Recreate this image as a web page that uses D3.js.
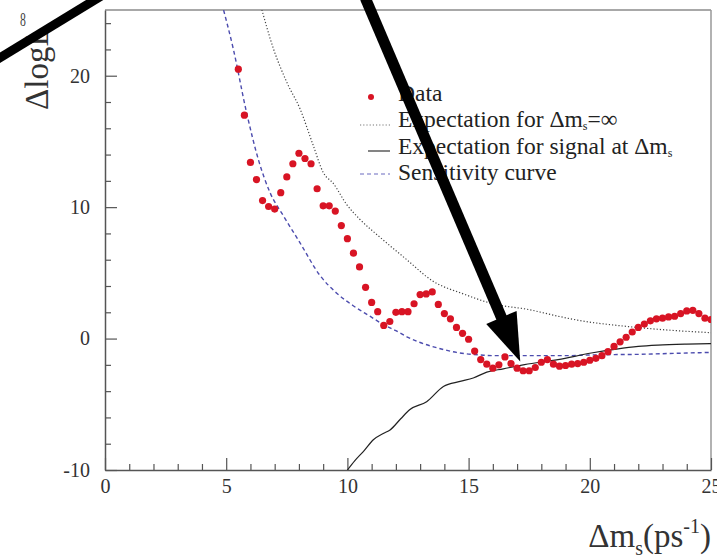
<!DOCTYPE html>
<html>
<head>
<meta charset="utf-8">
<script src="https://cdn.jsdelivr.net/npm/d3@7"></script>
<style>
  html, body { margin: 0; padding: 0; background: #fff; overflow: hidden; }
  svg { display: block; font-family: "Liberation Serif", "DejaVu Serif", serif; }
</style>
</head>
<body>
<svg id="chart" width="717" height="560"></svg>
<script>
// Amplitude scan: Δlog L versus Δm_s

// measured points (Δm_s in ps^-1, Δlog L)
const dataX = [5.5, 5.75, 6, 6.25, 6.5, 6.75, 7, 7.25, 7.5, 7.75, 8, 8.25, 8.5, 8.75, 9, 9.25,
  9.5, 9.75, 10, 10.25, 10.5, 10.75, 11, 11.25, 11.5, 11.75, 12, 12.25, 12.5, 12.75, 13, 13.25,
  13.5, 13.75, 14, 14.25, 14.5, 14.75, 15, 15.25, 15.5, 15.75, 16, 16.25, 16.5, 16.75, 17, 17.25,
  17.5, 17.75, 18, 18.25, 18.5, 18.75, 19, 19.25, 19.5, 19.75, 20, 20.25, 20.5, 20.75, 21, 21.25,
  21.5, 21.75, 22, 22.25, 22.5, 22.75, 23, 23.25, 23.5, 23.75, 24, 24.25, 24.5, 24.75, 25];
const dataY = [20.5, 17.0, 13.4, 12.1, 10.5, 10.05, 9.85, 11.1, 12.3, 13.3, 14.1, 13.7, 13.3, 11.4, 10.1, 10.1,
  9.7, 8.6, 7.6, 6.5, 5.45, 3.9, 2.75, 2.05, 1.0, 1.3, 2.0, 2.05, 2.05, 2.65, 3.35, 3.4,
  3.55, 2.6, 1.9, 1.5, 0.85, 0.4, -0.05, -0.95, -1.6, -1.95, -2.25, -2.0, -1.4, -1.9, -2.25, -2.45,
  -2.45, -2.2, -1.8, -1.6, -1.95, -2.1, -2.05, -1.95, -1.9, -1.8, -1.65, -1.5, -1.3, -1.0, -0.6, -0.25,
  0.1, 0.5, 0.85, 1.1, 1.35, 1.5, 1.55, 1.65, 1.7, 1.9, 2.1, 2.15, 1.9, 1.55, 1.45];

// expectation for Δm_s = ∞ (dotted)
const infX = [6.4, 6.94, 7.5, 8.04, 8.59, 9.0, 9.42, 9.97, 10.5, 11.35, 12.45, 13.5, 14.78, 16.0, 17.5, 18.69, 19.5, 21.44, 23.2, 25];
const infY = [25.5, 22.1, 19.5, 17.5, 14.7, 12.65, 11.8, 10.2, 9.1, 7.7, 6.0, 4.4, 3.4, 2.65, 2.2, 1.7, 1.4, 0.94, 0.65, 0.45];

// expectation for a signal at Δm_s (solid)
const sigX = [10.0, 10.3, 10.7, 11.07, 11.5, 11.76, 12.2, 12.58, 13.27, 13.96, 14.65, 15.19, 15.75, 16.43, 17.31, 18.69, 20.06, 21.1, 22.0, 22.81, 24, 25];
const sigY = [-10.0, -9.3, -8.5, -7.7, -7.2, -6.95, -6.1, -5.4, -4.8, -3.64, -3.26, -3.0, -2.55, -2.3, -1.98, -1.6, -1.1, -0.8, -0.6, -0.5, -0.42, -0.38];

// sensitivity curve (dashed)
const sensX = [4.82, 5.29, 5.84, 6.33, 6.81, 7.36, 8.04, 8.87, 9.56, 10.24, 10.93, 11.5, 12.0, 12.5, 13.0, 13.5, 14.0, 14.5, 15.0, 15.5, 16, 17, 18, 19, 20, 21, 22, 23, 24, 25];
const sensY = [25.5, 22.06, 17.2, 13.6, 11.1, 9.34, 7.3, 4.8, 3.45, 2.5, 1.7, 1.05, 0.6, 0.1, -0.3, -0.6, -0.85, -1.05, -1.18, -1.25, -1.3, -1.3, -1.3, -1.3, -1.25, -1.22, -1.2, -1.15, -1.1, -1.05];

// axis ticks
const xMajorTicks = [0, 5, 10, 15, 20, 25];
const xMinorTicks = [1, 2, 3, 4, 6, 7, 8, 9, 11, 12, 13, 14, 16, 17, 18, 19, 21, 22, 23, 24];
const yMajorTicks = [-10, 0, 10, 20];
const yMinorTicks = [-8, -6, -4, -2, 2, 4, 6, 8, 12, 14, 16, 18, 22, 24];

// legend entries ("|" toggles subscript)
const legendLabels = ["Data", "Expectation for Δm|s|=∞", "Expectation for signal at Δm|s|", "Sensitivity curve"];

const svg = d3.select("#chart");
const W = 717, H = 560;
const mLeft = 105, mRight = 711, mTop = 10, mBottom = 470;
const serif = "Liberation Serif, DejaVu Serif, serif";

svg.append("rect").attr("width", W).attr("height", H).attr("fill", "#fff");

const x = d3.scaleLinear().domain([0, 25]).range([mLeft, mRight]);
const y = d3.scaleLinear().domain([-10, 25]).range([mBottom, mTop]);

svg.append("defs").append("clipPath").attr("id", "plotclip")
  .append("rect").attr("x", mLeft).attr("y", mTop).attr("width", mRight - mLeft).attr("height", mBottom - mTop);

// frame: top and right borders
svg.append("line").attr("x1", mLeft).attr("x2", mRight).attr("y1", mTop).attr("y2", mTop)
  .attr("stroke", "#a8a8a8").attr("stroke-width", 2);
svg.append("line").attr("x1", mRight).attr("x2", mRight).attr("y1", mTop).attr("y2", mBottom)
  .attr("stroke", "#999").attr("stroke-width", 1.5);

// axes
function styleAxis(g) {
  g.attr("font-family", serif);
  g.selectAll("path.domain").attr("stroke", "#555").attr("stroke-width", 1.5);
  g.selectAll(".tick line").attr("stroke", "#555").attr("stroke-width", 1.2);
  g.selectAll(".tick text").attr("fill", "#333").attr("font-size", 20).attr("font-family", serif);
}
svg.append("g").attr("transform", `translate(0,${mBottom})`)
  .call(d3.axisBottom(x).tickValues(xMinorTicks).tickSize(-6).tickSizeOuter(0).tickFormat(""))
  .call(g => g.select(".domain").remove()).call(styleAxis);
svg.append("g").attr("transform", `translate(0,${mBottom})`)
  .call(d3.axisBottom(x).tickValues(xMajorTicks).tickSize(-12).tickSizeOuter(0).tickPadding(9)
    .tickFormat(d => String(d)))
  .call(styleAxis);
svg.append("g").attr("transform", `translate(${mLeft},0)`)
  .call(d3.axisLeft(y).tickValues(yMinorTicks).tickSize(-6).tickSizeOuter(0).tickFormat(""))
  .call(g => g.select(".domain").remove()).call(styleAxis);
svg.append("g").attr("transform", `translate(${mLeft},0)`)
  .call(d3.axisLeft(y).tickValues(yMajorTicks).tickSize(-12).tickSizeOuter(0).tickPadding(15)
    .tickFormat(d => String(d)))
  .call(styleAxis);

// curves
const line = d3.line().x(d => x(d[0])).y(d => y(d[1])).curve(d3.curveMonotoneX);
const plot = svg.append("g").attr("clip-path", "url(#plotclip)");

plot.append("path").datum(d3.zip(sensX, sensY)).attr("d", line)
  .attr("fill", "none").attr("stroke", "#4c4cae").attr("stroke-width", 1.4).attr("stroke-dasharray", "4,3");
plot.append("path").datum(d3.zip(infX, infY)).attr("d", line)
  .attr("fill", "none").attr("stroke", "#444").attr("stroke-width", 1.2).attr("stroke-dasharray", "1.2,2");
plot.append("path").datum(d3.zip(sigX, sigY)).attr("d", line)
  .attr("fill", "none").attr("stroke", "#222").attr("stroke-width", 1.2);

plot.selectAll("circle.pt").data(d3.zip(dataX, dataY)).join("circle").attr("class", "pt")
  .attr("cx", d => x(d[0])).attr("cy", d => y(d[1])).attr("r", 3.6).attr("fill", "#d81424");

// legend
const legX = 398, legSymX0 = 360, legSymX1 = 390;
const legBase = [101, 127, 154, 180];
const legSymY = [97, 125, 151, 174];
function richText(sel, s) {
  const parts = s.split("|");
  parts.forEach((p, i) => {
    if (i % 2 === 1) sel.append("tspan").attr("dy", 3).attr("font-size", 12).text(p);
    else if (i > 0) sel.append("tspan").attr("dy", -3).text(p);
    else sel.append("tspan").text(p);
  });
}
const leg = svg.append("g").attr("font-size", 23.5).attr("font-family", serif).attr("fill", "#222");
legendLabels.forEach((lab, i) => {
  const t = leg.append("text").attr("x", legX).attr("y", legBase[i]);
  richText(t, lab);
});
leg.append("circle").attr("cx", 371).attr("cy", legSymY[0]).attr("r", 3).attr("fill", "#d81424");
leg.append("line").attr("x1", legSymX0).attr("x2", legSymX1).attr("y1", legSymY[1]).attr("y2", legSymY[1])
  .attr("stroke", "#777").attr("stroke-width", 1.1).attr("stroke-dasharray", "1.2,2");
leg.append("line").attr("x1", legSymX0 + 8).attr("x2", legSymX1).attr("y1", legSymY[2]).attr("y2", legSymY[2])
  .attr("stroke", "#333").attr("stroke-width", 1.2);
leg.append("line").attr("x1", legSymX0).attr("x2", legSymX1).attr("y1", legSymY[3]).attr("y2", legSymY[3])
  .attr("stroke", "#6a6ac0").attr("stroke-width", 1.2).attr("stroke-dasharray", "4,3");

// axis titles
svg.append("text").attr("transform", "translate(48,110) rotate(-90)")
  .attr("font-size", 33).attr("font-family", serif).attr("fill", "#333").text("ΔlogL");
const xt = svg.append("text").attr("x", 711).attr("y", 547).attr("text-anchor", "end")
  .attr("font-size", 33).attr("font-family", serif).attr("fill", "#333");
xt.append("tspan").text("Δm");
xt.append("tspan").attr("dy", 8).attr("font-size", 20).text("s");
xt.append("tspan").attr("dy", -8).text("(ps");
xt.append("tspan").attr("dy", -14).attr("font-size", 20).text("-1");
xt.append("tspan").attr("dy", 14).text(")");

svg.append("text").attr("transform", "translate(23,26) scale(0.62,1)").attr("text-anchor", "middle")
  .attr("font-size", 19).attr("font-family", serif).attr("fill", "#444").text("8");

// annotation arrows
function arrow(p0, p1, width, headLen, headHalf) {
  const x0 = x(p0[0]), y0 = y(p0[1]), x1 = x(p1[0]), y1 = y(p1[1]);
  const dx = x1 - x0, dy = y1 - y0, L = Math.hypot(dx, dy);
  const ux = dx / L, uy = dy / L;
  const bx = x1 - ux * headLen, by = y1 - uy * headLen;
  svg.append("line").attr("x1", x0).attr("y1", y0)
    .attr("x2", headLen ? bx + ux * 2 : x1).attr("y2", headLen ? by + uy * 2 : y1)
    .attr("stroke", "#000").attr("stroke-width", width);
  if (headLen) {
    svg.append("path").attr("fill", "#000")
      .attr("d", `M${x1},${y1}L${bx - uy * headHalf},${by + ux * headHalf}L${bx + uy * headHalf},${by - ux * headHalf}Z`);
  }
}
arrow([-5.2, 20.4], [0.5, 26.8], 9, 0, 0);
arrow([10.74, 25.9], [17.13, -1.75], 11, 48, 16.5);
</script>
</body>
</html>
